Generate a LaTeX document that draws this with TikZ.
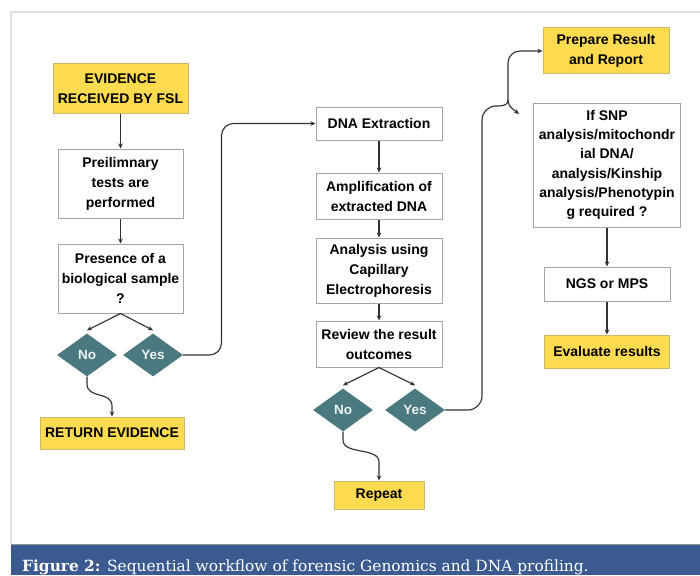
\documentclass[tikz,border=0pt]{standalone}
\usepackage{fontspec}
\setsansfont{Liberation Sans}
\newfontfamily\capfont{DejaVu Serif}
\usetikzlibrary{shapes.geometric,arrows.meta,calc}
\definecolor{yel}{RGB}{253,219,80}
\definecolor{yelb}{RGB}{200,185,110}
\definecolor{tealc}{RGB}{74,122,128}
\definecolor{boxb}{RGB}{165,165,165}
\definecolor{linec}{RGB}{50,50,50}
\definecolor{capblue}{RGB}{59,90,143}
\definecolor{framec}{RGB}{222,222,222}
\begin{document}
\begin{tikzpicture}[x=1pt,y=-1pt,
 lbl/.style={font=\sffamily\bfseries\fontsize{14}{20}\selectfont, align=center, inner sep=0pt, text=black},
 wbox/.style={lbl, draw=boxb, line width=1pt, fill=white},
 ybox/.style={lbl, draw=yelb, line width=1pt, fill=yel},
 dia/.style={diamond, fill=tealc, text=white!90!tealc, font=\sffamily\bfseries\fontsize{13.5}{16}\selectfont, minimum width=60pt, minimum height=43pt, inner sep=0pt},
 conn/.style={draw=linec, line width=1.15pt},
 arr/.style={conn, -{Stealth[length=5pt,width=4.5pt]}}]
\useasboundingbox (0,0) rectangle (700,575);
\clip (0,0) rectangle (700,575);
% frame and caption bar
\fill[white] (0,0) rectangle (700,575);
\draw[framec, line width=1.3pt] (700,12) -- (11,12) -- (11,544);
\fill[capblue] (11,544) rectangle (700,575);
\draw[gray!85, line width=0.9pt] (11,544) -- (700,544);
\node[anchor=base west, text=white, font=\capfont\fontsize{15.4}{18}\selectfont, inner sep=0pt] (captxt) at (22,571) {\textbf{Figure 2:} Sequential workflow of forensic Genomics and DNA profiling.};

% left column
\node[ybox, minimum width=135pt, minimum height=49pt] (ev) at (120.5,88.5) {EVIDENCE\\RECEIVED BY FSL};
\node[wbox, minimum width=125pt, minimum height=69pt] (pre) at (120.5,183.5) {Preilimnary\\tests are\\performed};
\node[wbox, minimum width=125pt, minimum height=69pt] (pres) at (120.5,278.5) {Presence of a\\biological sample\\?};
\node[dia] (no1) at (87,355) {No};
\node[dia] (yes1) at (153,355) {Yes};
\node[ybox, minimum width=144pt, minimum height=32pt] (ret) at (112,433) {RETURN EVIDENCE};

% middle column
\node[wbox, minimum width=126pt, minimum height=33pt] (dna) at (379,123.5) {DNA Extraction};
\node[wbox, minimum width=126pt, minimum height=46pt] (amp) at (379,196) {Amplification of\\extracted DNA};
\node[wbox, minimum width=126pt, minimum height=65pt] (cap) at (379,270.5) {Analysis using\\Capillary\\Electrophoresis};
\node[wbox, minimum width=126pt, minimum height=46pt] (rev) at (379,344) {Review the result\\outcomes};
\node[dia] (no2) at (343,410) {No};
\node[dia] (yes2) at (415,410) {Yes};
\node[ybox, minimum width=90pt, minimum height=28pt] (rep) at (379,495) {Repeat};

% right column
\node[ybox, minimum width=126pt, minimum height=46pt] (prep) at (606,51) {Prepare Result\\and Report};
\node[wbox, minimum width=147pt, minimum height=124pt, font=\sffamily\bfseries\fontsize{14}{19.3}\selectfont] (snp) at (607,165) {If SNP\\analysis/mitochondr\\ial DNA/\\analysis/Kinship\\analysis/Phenotypin\\g required ?};
\node[wbox, minimum width=126pt, minimum height=34pt] (ngs) at (607,284) {NGS or MPS};
\node[ybox, minimum width=125pt, minimum height=33pt] (eval) at (607,351.5) {Evaluate results};

% connectors left
\draw[arr] (ev.south) -- (pre.north);
\draw[arr] (pre.south) -- (pres.north);
\draw[arr] (pres.south) -- ([yshift=3pt]no1.north);
\draw[arr] (pres.south) -- ([yshift=3pt]yes1.north);
\draw[arr] (no1.south) -- (87,384) .. controls (87,399) and (112,391) .. (112,406) -- (ret.north);
\draw[arr, rounded corners=12pt] (yes1.east) -| ($(dna.west)+(-94,0)$) -- (dna.west);

% connectors middle
\draw[arr] (dna.south) -- (amp.north);
\draw[arr] (amp.south) -- (cap.north);
\draw[arr] (cap.south) -- (rev.north);
\draw[arr] (rev.south) -- ([yshift=3pt]no2.north);
\draw[arr] (rev.south) -- ([yshift=3pt]yes2.north);
\draw[arr] (no2.south) -- (343,440) .. controls (343,455) and (379,447) .. (379,462) -- (rep.north);

% Yes -> fork
\coordinate (j) at (508,100);
\coordinate (snpin) at (519,114);
\draw[conn, rounded corners=14pt] (yes2.east) -| (482,106) -- (498,106);
\draw[conn] (498,106) .. controls (505,106) and (508,104) .. (j);
\draw[arr, rounded corners=12pt] (j) |- (prep.west);
\draw[arr] (j) .. controls (509,106) .. (snpin);

% connectors right
\draw[arr] (snp.south) -- (ngs.north);
\draw[arr] (ngs.south) -- (eval.north);
\end{tikzpicture}
\end{document}
